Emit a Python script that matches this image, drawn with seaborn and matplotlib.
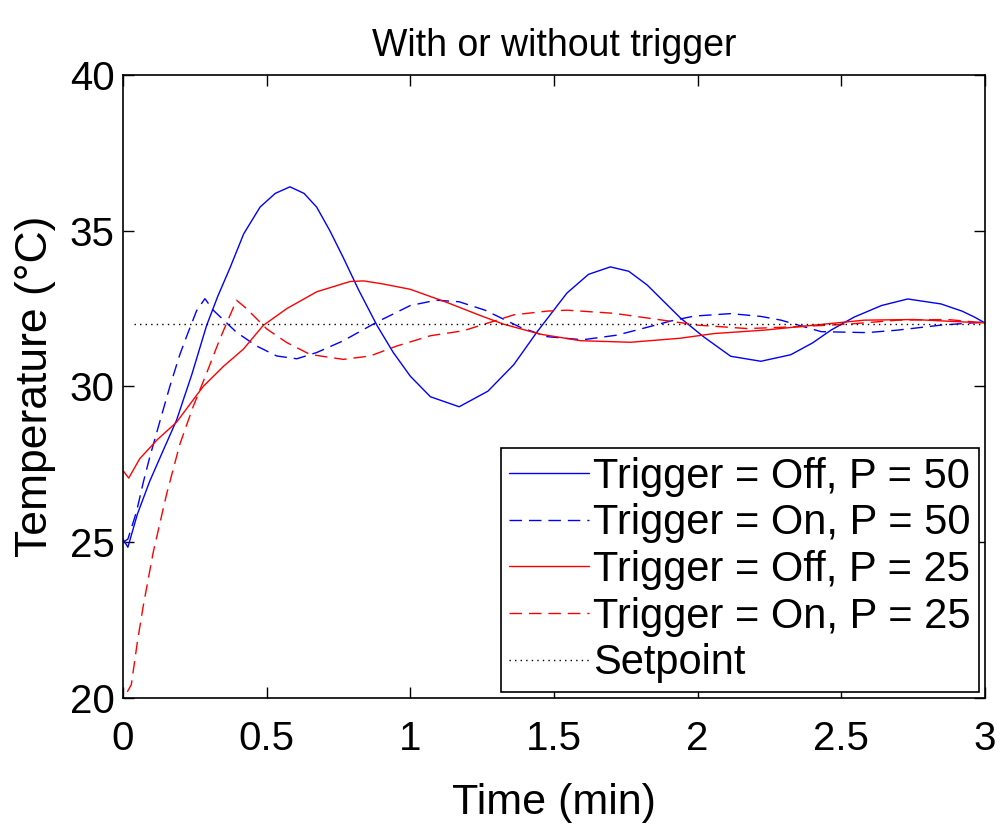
import matplotlib
matplotlib.use("Agg")
import matplotlib.pyplot as plt
import seaborn as sns
import pandas as pd

# ---- data ----
t_off50 = [0, 0.017, 0.05, 0.093, 0.14, 0.186, 0.24, 0.291, 0.33, 0.372, 0.42, 0.477, 0.53, 0.581,
           0.63, 0.674, 0.72, 0.767, 0.82, 0.884, 0.94, 1.0, 1.07, 1.17, 1.27, 1.36, 1.44, 1.545,
           1.62, 1.696, 1.76, 1.824, 1.94, 2.02, 2.115, 2.22, 2.324, 2.40, 2.464, 2.545, 2.64,
           2.731, 2.847, 2.92, 2.963, 3.0]
v_off50 = [25.1, 24.84, 25.9, 26.96, 27.95, 28.91, 30.4, 31.96, 32.9, 33.8, 34.9, 35.76, 36.2, 36.41,
           36.2, 35.76, 35.0, 34.13, 33.1, 31.96, 31.1, 30.33, 29.67, 29.35, 29.85, 30.7, 31.74, 33.0,
           33.6, 33.84, 33.7, 33.26, 32.2, 31.6, 30.97, 30.81, 31.02, 31.4, 31.81, 32.23, 32.6,
           32.81, 32.65, 32.42, 32.23, 32.04]

t_on50 = [0, 0.017, 0.047, 0.07, 0.093, 0.128, 0.163, 0.198, 0.221, 0.256, 0.285, 0.314, 0.395,
          0.465, 0.535, 0.605, 0.674, 0.767, 0.884, 1.0, 1.09, 1.17, 1.26, 1.383, 1.476, 1.6, 1.72,
          1.824, 1.905, 1.987, 2.115, 2.22, 2.29, 2.43, 2.59, 2.696, 2.847, 3.0]
v_on50 = [25.0, 25.1, 25.98, 26.9, 27.73, 28.87, 30.0, 31.03, 31.6, 32.43, 32.82, 32.45, 31.74,
          31.3, 30.98, 30.89, 31.09, 31.47, 32.07, 32.6, 32.77, 32.72, 32.45, 31.9, 31.6, 31.5, 31.65,
          31.9, 32.1, 32.26, 32.34, 32.25, 32.13, 31.76, 31.73, 31.81, 31.97, 32.07]

t_off25 = [0, 0.02, 0.058, 0.12, 0.186, 0.279, 0.35, 0.419, 0.488, 0.57, 0.674, 0.79, 0.837, 0.9,
           1.0, 1.127, 1.243, 1.325, 1.452, 1.592, 1.766, 1.94, 2.057, 2.232, 2.406, 2.58, 2.754,
           2.93, 3.0]
v_off25 = [27.3, 27.06, 27.68, 28.3, 28.85, 30.0, 30.65, 31.2, 31.96, 32.5, 33.04, 33.37, 33.39, 33.3,
           33.12, 32.7, 32.28, 32.0, 31.68, 31.47, 31.42, 31.55, 31.7, 31.81, 31.97, 32.13, 32.15,
           32.07, 32.04]

t_on25 = [0.015, 0.029, 0.05, 0.07, 0.105, 0.151, 0.198, 0.244, 0.291, 0.337, 0.395, 0.43, 0.5,
          0.57, 0.651, 0.767, 0.86, 0.953, 1.07, 1.185, 1.36, 1.476, 1.545, 1.708, 1.824, 1.94,
          2.0, 2.173, 2.348, 2.522, 2.696, 2.87, 3.0]
v_on25 = [20.2, 20.43, 21.8, 22.93, 24.67, 26.52, 28.15, 29.35, 30.43, 31.52, 32.77, 32.5, 31.85,
          31.41, 31.03, 30.87, 30.98, 31.3, 31.63, 31.79, 32.3, 32.42, 32.45, 32.35, 32.2, 32.05,
          31.97, 31.86, 31.92, 32.0, 32.13, 32.15, 32.04]

t_set = [0.04, 3.0]
v_set = [32, 32]

labels = ["Trigger = Off, P = 50", "Trigger = On, P = 50",
          "Trigger = Off, P = 25", "Trigger = On, P = 25", "Setpoint"]
x_ticks = [0, 0.5, 1, 1.5, 2, 2.5, 3]
x_ticklabels = ["0", "0.5", "1", "1.5", "2", "2.5", "3"]
y_ticks = [20, 25, 30, 35, 40]

# ---- styling ----
sns.set_theme(style="white")
plt.rcParams["font.family"] = ["Liberation Sans", "DejaVu Sans"]
plt.rcParams["text.color"] = "black"
plt.rcParams["axes.labelcolor"] = "black"
plt.rcParams["xtick.color"] = "black"
plt.rcParams["ytick.color"] = "black"

fig = plt.figure(figsize=(10.04, 8.39), dpi=100)
ax = fig.add_axes([123 / 1004, 1 - 698 / 839, (985 - 123) / 1004, (698 - 75) / 839])

series = [
    (t_off50, v_off50, "#0000FF", (None, None)),
    (t_on50, v_on50, "#0000FF", (9, 5)),
    (t_off25, v_off25, "#FF0000", (None, None)),
    (t_on25, v_on25, "#FF0000", (9, 5)),
    (t_set, v_set, "#000000", (1, 3)),
]

handles = []
for (tt, vv, col, dash), lab in zip(series, labels):
    df = pd.DataFrame({"t": tt, "v": vv})
    sns.lineplot(data=df, x="t", y="v", ax=ax, color=col, linewidth=1.0,
                 sort=False, estimator=None, label=lab)
    line = ax.get_lines()[-1]
    if dash[0] is None:
        line.set_linestyle("-")
    else:
        line.set_dashes(dash)
    handles.append(line)

ax.set_xlim(0, 3)
ax.set_ylim(20, 40)
ax.set_xticks(x_ticks)
ax.set_xticklabels(x_ticklabels)
ax.set_yticks(y_ticks)
ax.tick_params(axis="both", direction="in", length=8, width=1, labelcolor="black",
               labelsize=29, top=True, right=True, bottom=True, left=True)
ax.tick_params(axis="x", pad=16)
ax.tick_params(axis="y", pad=6)
for s in ax.spines.values():
    s.set_color("black")
    s.set_linewidth(1.2)

ax.set_xlabel("Time (min)", fontsize=31, labelpad=18, color="black")
ax.set_ylabel("Temperature (\u00b0C)", fontsize=32, labelpad=10, color="black")
ax.set_title("With or without trigger", fontsize=27, pad=14, color="black")

leg = ax.legend(handles=handles, labels=labels, loc="lower right", fontsize=30,
                frameon=True, fancybox=False, edgecolor="black", framealpha=1,
                handlelength=1.9, handletextpad=0.1, borderpad=0.2, labelspacing=0.16,
                borderaxespad=0.15)
leg.get_frame().set_linewidth(1.2)
for txt in leg.get_texts():
    txt.set_color("black")

fig.savefig("out.png", dpi=100, facecolor="white")
